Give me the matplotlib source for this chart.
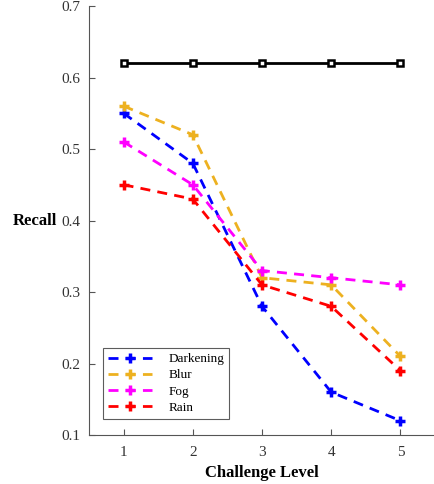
import matplotlib.pyplot as plt

plt.rcParams['font.family'] = ['Liberation Serif', 'DejaVu Serif']

levels = [1, 2, 3, 4, 5]
baseline = [0.62, 0.62, 0.62, 0.62, 0.62]
darkening = [0.55, 0.48, 0.28, 0.16, 0.12]
blur = [0.56, 0.52, 0.32, 0.31, 0.21]
fog = [0.51, 0.45, 0.33, 0.32, 0.31]
rain = [0.45, 0.43, 0.31, 0.28, 0.19]

series = [
    ("Darkening", darkening, (0, 0, 1)),
    ("Blur", blur, (0.929, 0.694, 0.125)),
    ("Fog", fog, (1, 0, 1)),
    ("Rain", rain, (1, 0, 0)),
]

fig = plt.figure(figsize=(4.35, 4.84), dpi=100)
ax = fig.add_axes([0.2046, 0.1012, 0.7954, 0.8864])

ax.plot(levels, baseline, color='black', lw=2, marker='s', ms=4.2,
        mfc='white', mec='black', mew=1.8)

for name, vals, col in series:
    ax.plot(levels, vals, color=col, lw=2, ls=(0, (3.6, 2.6)), marker='+',
            ms=7, mew=2.5, label=name)

ax.set_xlim(0.5, 5.5)
ax.set_ylim(0.1, 0.7)
ax.set_xticks(levels)
ax.set_yticks([0.1, 0.2, 0.3, 0.4, 0.5, 0.6, 0.7])
ax.spines['top'].set_visible(False)
ax.spines['right'].set_visible(False)
for s in ('left', 'bottom'):
    ax.spines[s].set_color('#555555')
ax.tick_params(direction='in', length=4, color='#555555', labelsize=11,
               labelcolor='#333333', pad=8)
ax.tick_params(axis='y', pad=6)

ax.set_xlabel("Challenge Level", fontsize=12, fontweight='bold', labelpad=4)
ax.set_ylabel("Recall", fontsize=12, fontweight='bold', rotation=0,
              labelpad=19, va='center')

leg = ax.legend(loc='lower left', bbox_to_anchor=(0.0405, 0.0373),
                borderaxespad=0, fontsize=9.5, frameon=True, fancybox=False,
                edgecolor='#333333', handlelength=3.3, handletextpad=1.25,
                borderpad=0.4, labelspacing=0.3)
leg.get_frame().set_linewidth(0.8)

fig.savefig("out.png", dpi=100)
